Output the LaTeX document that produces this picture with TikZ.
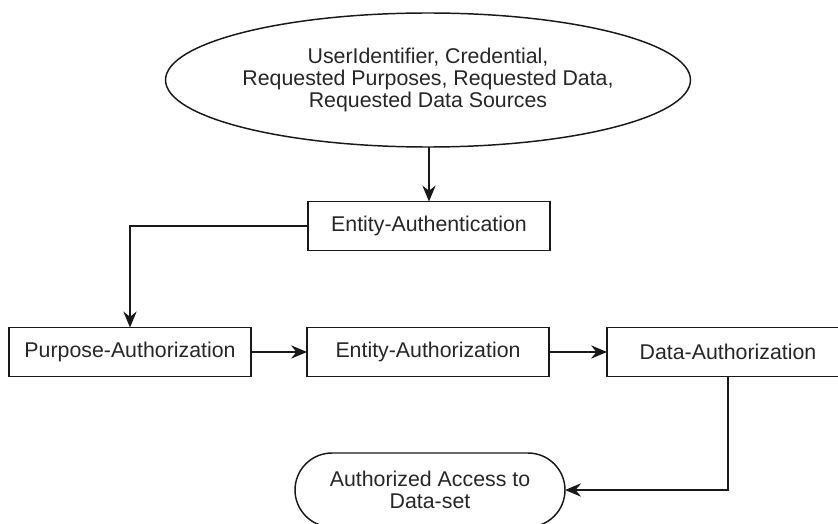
\documentclass[tikz,border=0pt]{standalone}
\usepackage{fontspec}
\setmainfont{Liberation Sans}
\usetikzlibrary{arrows.meta,shapes.geometric,shapes.misc}
\begin{document}
\begin{tikzpicture}[x=0.75pt,y=-0.75pt,
  every node/.style={font=\fontsize{16}{16.5}\selectfont, text=black!85, inner sep=0pt, outer sep=0pt, line width=1.1pt, draw=black!90},
  procbox/.style={rectangle, minimum width=181.5pt, minimum height=36.75pt},
  inputell/.style={ellipse, minimum width=294pt, minimum height=100.5pt, align=center},
  termbox/.style={rounded rectangle, minimum width=202.5pt, minimum height=55.5pt, align=center},
  conn/.style={line width=1.1pt, draw=black!90, -{Stealth[length=12pt,width=10pt,inset=4pt]}}
]
\useasboundingbox (0,0) rectangle (838,524);
\clip (0,0) rectangle (838,524);
\node[inputell] (inp) at (428,80) {UserIdentifier, Credential,\\Requested Purposes, Requested Data,\\Requested Data Sources};
\node[procbox] (eauthn) at (429,226) {Entity-Authentication};
\node[procbox] (pauth) at (130,352) {Purpose-Authorization};
\node[procbox] (eauth) at (428,352) {Entity-Authorization};
\node[procbox] (dauth) at (728,352) {Data-Authorization};
\node[termbox] (term) at (430,490) {Authorized Access to\\Data-set};
\draw[conn] (inp.south -| eauthn.north) -- (eauthn.north);
\draw[conn] (eauthn.west) -| (pauth.north);
\draw[conn] (pauth.east) -- (eauth.west);
\draw[conn] (eauth.east) -- (dauth.west);
\draw[conn] (dauth.south) |- (term.east);
\end{tikzpicture}
\end{document}
